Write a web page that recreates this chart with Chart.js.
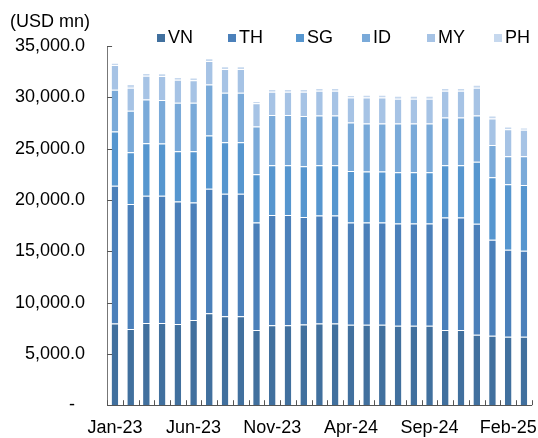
<!DOCTYPE html>
<html>
<head>
<meta charset="utf-8">
<script src="https://cdn.jsdelivr.net/npm/chart.js@4"></script>
<style>
  body { margin: 0; background: #fff; font-family: "Liberation Sans", Arial, sans-serif; }
  #wrap { position: relative; width: 538px; height: 438px; overflow: hidden; }
  #unit { position: absolute; left: 10px; top: 11px; font-size: 18px; color: #000; }
  #legend { position: absolute; top: 27px; left: 0; height: 20px; }
  .item { position: absolute; top: 0; white-space: nowrap; font-size: 18px; line-height: 20px; color: #000; }
  .box { display: inline-block; width: 8px; height: 8px; margin-right: 3px; vertical-align: 1px; }
</style>
</head>
<body>
<div id="wrap">
  <canvas id="chart" width="538" height="438"></canvas>
  <div id="unit">(USD mn)</div>
  <div id="legend"></div>
</div>
<script>
const months = ["Jan-23", "Feb-23", "Mar-23", "Apr-23", "May-23", "Jun-23", "Jul-23", "Aug-23", "Sep-23",
  "Oct-23", "Nov-23", "Dec-23", "Jan-24", "Feb-24", "Mar-24", "Apr-24", "May-24", "Jun-24", "Jul-24",
  "Aug-24", "Sep-24", "Oct-24", "Nov-24", "Dec-24", "Jan-25", "Feb-25", "Mar-25"];

const vn = [7960, 7420, 8000, 8000, 7900, 8290, 8960, 8670, 8670, 7320, 7800, 7800, 7870, 7960, 7960,
  7840, 7840, 7840, 7740, 7740, 7740, 7320, 7320, 6870, 6770, 6670, 6670];
const th = [13420, 12190, 12420, 12400, 11940, 11450, 12130, 11940, 11940, 10480, 10740, 10740, 10480,
  10520, 10520, 9970, 9970, 9970, 9970, 9970, 9970, 10970, 10970, 10810, 9350, 8480, 8390];
const sg = [5290, 5030, 5100, 5100, 4900, 5000, 5190, 5000, 5000, 4710, 4840, 4840, 4940, 4900, 4900,
  5000, 4970, 4970, 5000, 5000, 5000, 5100, 5100, 6030, 6100, 6390, 6390];
const id = [4060, 4060, 4260, 4250, 4740, 4740, 4970, 4840, 4840, 4650, 4900, 4900, 4900, 4840, 4840,
  4740, 4680, 4680, 4740, 4740, 4740, 4640, 4640, 4520, 3130, 2710, 2810];
const my = [2420, 2230, 2320, 2330, 2230, 2190, 2290, 2320, 2320, 2260, 2260, 2260, 2360, 2420, 2420,
  2420, 2520, 2520, 2420, 2420, 2420, 2610, 2610, 2710, 2580, 2650, 2580];
const ph = [230, 360, 260, 260, 260, 260, 260, 260, 260, 230, 260, 260, 260, 260, 260, 260, 260, 260,
  290, 290, 290, 260, 260, 290, 290, 260, 230];

const seriesNames = ["VN", "TH", "SG", "ID", "MY", "PH"];
const seriesData = [vn, th, sg, id, my, ph];
const colors = ["#41709e", "#4b80ba", "#5696cf", "#7aaad9", "#a6c3e5", "#c6d8ee"];
const legendLeft = [157, 228, 296, 362, 427, 494];

// legend drawn as html so the items sit on fixed slots like the original
const legend = document.getElementById("legend");
seriesNames.forEach((name, i) => {
  const item = document.createElement("div");
  item.className = "item";
  item.style.left = legendLeft[i] + "px";
  item.innerHTML = '<span class="box" style="background:' + colors[i] + '"></span>' + name;
  legend.appendChild(item);
});

// inward tick marks on both axes
const innerTicks = {
  id: "innerTicks",
  afterDraw(chart) {
    const ctx = chart.ctx;
    const x = chart.scales.x;
    const y = chart.scales.y;
    const half = (x.getPixelForValue(1) - x.getPixelForValue(0)) / 2;
    ctx.save();
    ctx.strokeStyle = "#555";
    ctx.lineWidth = 1;
    ctx.beginPath();
    for (let i = 0; i <= months.length; i++) {
      const px = Math.round(x.getPixelForValue(i) - half) + 0.5;
      ctx.moveTo(px, y.bottom);
      ctx.lineTo(px, y.bottom - 5);
    }
    y.ticks.forEach((t, i) => {
      const py = Math.round(y.getPixelForTick(i)) + 0.5;
      ctx.moveTo(x.left, py);
      ctx.lineTo(x.left + 5, py);
    });
    ctx.stroke();
    ctx.restore();
  }
};

new Chart(document.getElementById("chart"), {
  type: "bar",
  data: {
    labels: months,
    datasets: seriesNames.map((name, i) => ({
      label: name,
      data: seriesData[i],
      backgroundColor: colors[i],
      borderColor: "rgba(255,255,255,0.45)",
      borderWidth: { top: 1 },
      borderSkipped: false,
      categoryPercentage: 0.42,
      barPercentage: 1
    }))
  },
  options: {
    responsive: false,
    animation: false,
    devicePixelRatio: 1,
    layout: { padding: { top: 46, left: -7, right: 4, bottom: -23 } },
    plugins: {
      legend: { display: false },
      tooltip: { enabled: false }
    },
    scales: {
      x: {
        stacked: true,
        offset: true,
        grid: { display: false, drawTicks: false },
        border: { display: true, color: "#555", width: 1 },
        ticks: {
          color: "#000",
          font: { family: "Liberation Sans", size: 18, lineHeight: 1 },
          padding: 14,
          maxRotation: 0,
          autoSkip: false,
          callback: (v, i) => (i % 5 === 0 ? months[i] : "")
        }
      },
      y: {
        stacked: true,
        min: 0,
        max: 35000,
        grid: { display: false, drawTicks: false },
        border: { display: true, color: "#777", width: 1 },
        ticks: {
          stepSize: 5000,
          color: "#000",
          font: { family: "Liberation Sans", size: 18 },
          padding: 22,
          callback: (v) => (v === 0 ? "-  " : v.toLocaleString("en-US", { minimumFractionDigits: 1 }))
        }
      }
    }
  },
  plugins: [innerTicks]
});
</script>
</body>
</html>
